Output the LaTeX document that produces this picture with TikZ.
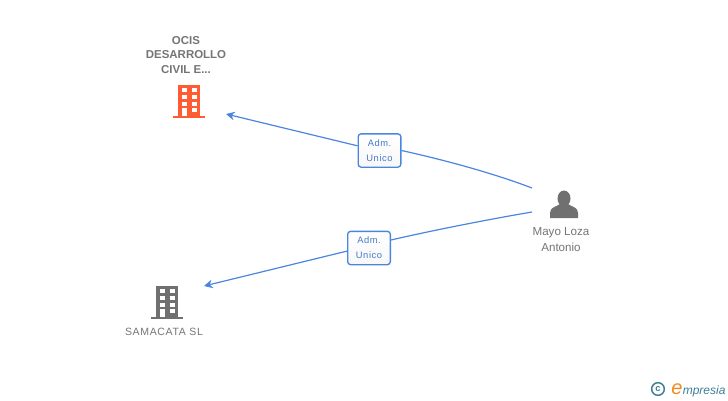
\documentclass[tikz,border=0pt]{standalone}
\usepackage{fontspec}
\setmainfont{Liberation Sans}
\newfontfamily\spacedfont[LetterSpace=6]{Liberation Sans}
\newfontfamily\logofont{Liberation Sans}
\usetikzlibrary{arrows.meta,positioning}
\definecolor{linkblue}{HTML}{4A86E0}
\definecolor{iconorange}{HTML}{FF5C33}
\definecolor{icongray}{HTML}{707070}
\definecolor{textgray}{HTML}{757575}
\definecolor{logoteal}{HTML}{3F7F96}
\definecolor{logoorange}{HTML}{F08A1D}
\tikzset{
  linkline/.style={draw=linkblue,line width=0.9pt},
  linkarrow/.style={linkline,-{Stealth[length=6.5pt,width=6.5pt]}},
  rolebox/.style={draw=linkblue,line width=1pt,rounded corners=2.2pt,top color=white,bottom color=black!3,
    minimum width=32pt,minimum height=25pt,inner sep=0pt,align=center,
    text=linkblue!90!black,font=\spacedfont\fontsize{7}{11.3}\selectfont},
  firmtext/.style={text=textgray,align=center,font=\fontsize{8.6}{11.2}\selectfont},
  persontext/.style={text=textgray,align=center,font=\fontsize{8.7}{12}\selectfont}
}
\newcommand{\buildingicon}[2]{% lower centre of the icon, colour
  \begin{scope}[shift={#1}]
    \fill[#2] (-11,-34.5) rectangle (11,-2);
    \fill[#2] (-16,-3) rectangle (16,-1);
    \foreach \xa in {-7.5,2.5} \foreach \ya in {-30.7,-24,-17.3} {
      \fill[white] (\xa,\ya) rectangle +(5.2,4);
    }
    \fill[white] (2.5,-10.7) rectangle +(5.2,4);
    \fill[white] (-7.5,-10.7) rectangle +(5.2,7.7);
  \end{scope}
}
\begin{document}
\begin{tikzpicture}[x=0.75pt,y=-0.75pt]
\useasboundingbox[fill=white] (0,0) rectangle (728,400);
%% entities
\node[firmtext] (ocis) at (186,55) {\textbf{OCIS}\\\textbf{DESARROLLO}\\\textbf{CIVIL E...}};
\node[firmtext,font=\spacedfont\fontsize{7.9}{10}\selectfont] (samacata) at (164,332) {SAMACATA SL};
\node[persontext] (mayo) at (561,239.5) {Mayo Loza\\Antonio};
\buildingicon{(189,119)}{iconorange}
\buildingicon{(167,320)}{icongray}
%% person icon
\fill[icongray] (564,198.5) ellipse (6.5 and 8);
\fill[icongray] (550,218) -- (550,213) .. controls (550,207) and (556,207) .. (560,204)
  -- (568,204) .. controls (572,207) and (578,207) .. (578,213) -- (578,218) -- cycle;
%% role boxes
\node[rolebox] (roleone) at (379.5,150.5) {Adm.\\Unico};
\node[rolebox] (roletwo) at (369,248) {Adm.\\Unico};
%% free ends of the links
\coordinate (mayoupper) at (532,188);
\coordinate (mayolower) at (532,212);
\coordinate (ocisend) at (226,114);
\coordinate (samacataend) at (204,286);
%% links
\draw[linkline] (mayoupper) .. controls (490,172) and (440,159) .. (roleone.east);
\draw[linkarrow] (roleone.168) -- (ocisend);
\draw[linkline] (mayolower) .. controls (485,220) and (430,231) .. (roletwo.20);
\draw[linkarrow] (roletwo.188) -- (samacataend);
%% logo
\node[text=logoteal,circle,draw=logoteal,line width=1.1pt,inner sep=0pt,minimum size=9.5pt,font=\fontsize{7}{7}\selectfont\bfseries] (logomark) at (658,389) {c};
\node[anchor=base west,inner sep=0pt,text=logoorange,font=\logofont\itshape\fontsize{15}{15}\selectfont] (logoe) at (671,394) {e};
\node[anchor=base west,inner sep=0pt,text=logoteal,font=\logofont\itshape\fontsize{9}{10}\selectfont] (logotext) at (682.5,394) {mpresia};
\end{tikzpicture}
\end{document}
